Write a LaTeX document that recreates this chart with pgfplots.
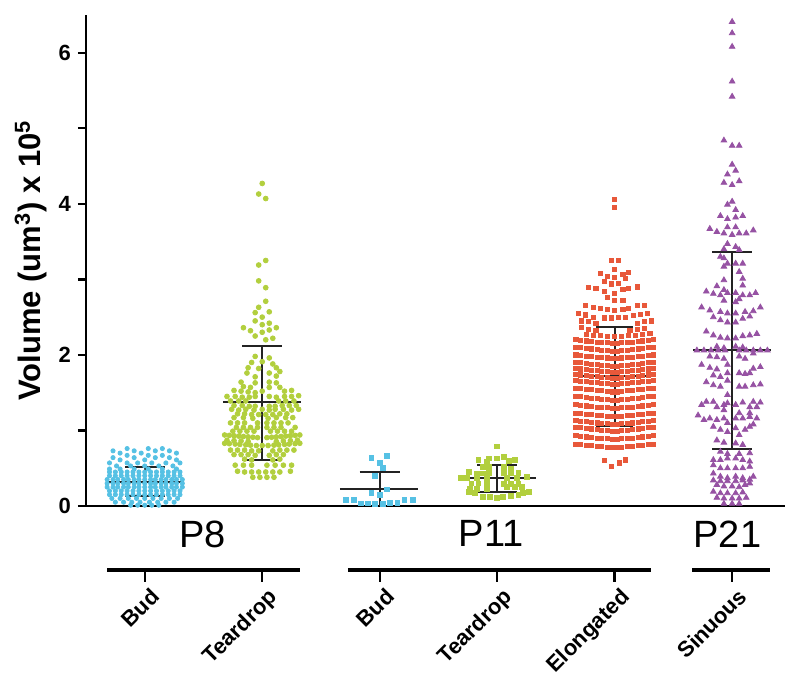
\documentclass[border=0pt]{standalone}
\usepackage{fontspec}
\setmainfont{Liberation Sans}
\usepackage{pgfplots}
\pgfplotsset{compat=1.18}
\definecolor{cbud}{RGB}{86,193,228}
\definecolor{ctear}{RGB}{178,207,62}
\definecolor{celong}{RGB}{232,88,58}
\definecolor{csin}{RGB}{150,82,163}
\definecolor{cerr}{RGB}{35,35,35}
\pgfplotsset{errl/.style={cerr, line width=1pt, forget plot}}
\begin{document}
\begin{tikzpicture}
\begin{axis}[
  name=ax, at={(0,0)}, anchor=south west,
  scale only axis, width=349.5pt, height=245.5pt,
  xmin=-0.5, xmax=5.45, ymin=0, ymax=6.5,
  axis lines=left, axis line style={line width=1.2pt,-},
  xtick=\empty, ytick={0,1,2,3,4,5,6}, yticklabels={0,,2,,4,,6},
  tick align=outside, major tick length=4pt,
  every tick/.style={black, line width=1.2pt},
  yticklabel style={font=\bfseries\fontsize{11}{11}\selectfont},
  /pgf/number format/assume math mode=true,
  ylabel={Volume (um\textsuperscript{3}) x 10\textsuperscript{5}},
  ylabel style={font=\bfseries\fontsize{15.5}{15.5}\selectfont, at={(axis description cs:-0.079,0.5)}, anchor=center},
  clip=false,
]
% P8 Bud
\addplot[only marks, mark=*, mark size=1.05pt, color=cbud] coordinates {
(-0.15,0.76)(0.03,0.76)(0.15,0.76)
(-0.27,0.73)(-0.09,0.73)(0.09,0.73)(0.21,0.73)
(-0.21,0.70)(-0.03,0.70)(0.27,0.70)
(-0.15,0.67)(0.03,0.67)(0.15,0.67)
(-0.27,0.64)(-0.09,0.64)(0.09,0.64)(0.21,0.64)
(-0.21,0.61)(0,0.61)(0.27,0.61)
(-0.30,0.57)(-0.15,0.57)(-0.06,0.57)(0.06,0.57)(0.18,0.57)(0.30,0.57)
(-0.24,0.53)(-0.12,0.53)(0,0.53)(0.12,0.53)(0.24,0.53)
(-0.30,0.49)(-0.21,0.49)(-0.09,0.49)(0.03,0.49)(0.15,0.49)(0.27,0.49)
(-0.30,0.45)(-0.25,0.45)(-0.20,0.45)(-0.15,0.45)(-0.10,0.45)(-0.05,0.45)(0,0.45)(0.05,0.45)(0.10,0.45)(0.15,0.45)(0.20,0.45)(0.25,0.45)(0.30,0.45)
(-0.30,0.40)(-0.25,0.40)(-0.20,0.40)(-0.15,0.40)(-0.10,0.40)(-0.05,0.40)(0,0.40)(0.05,0.40)(0.10,0.40)(0.15,0.40)(0.20,0.40)(0.25,0.40)(0.30,0.40)
(-0.32,0.35)(-0.27,0.35)(-0.23,0.35)(-0.18,0.35)(-0.14,0.35)(-0.09,0.35)(-0.05,0.35)(0,0.35)(0.05,0.35)(0.09,0.35)(0.14,0.35)(0.18,0.35)(0.23,0.35)(0.27,0.35)(0.32,0.35)
(-0.32,0.30)(-0.27,0.30)(-0.23,0.30)(-0.18,0.30)(-0.14,0.30)(-0.09,0.30)(-0.05,0.30)(0,0.30)(0.05,0.30)(0.09,0.30)(0.14,0.30)(0.18,0.30)(0.23,0.30)(0.27,0.30)(0.32,0.30)
(-0.32,0.25)(-0.27,0.25)(-0.23,0.25)(-0.18,0.25)(-0.14,0.25)(-0.09,0.25)(-0.05,0.25)(0,0.25)(0.05,0.25)(0.09,0.25)(0.14,0.25)(0.18,0.25)(0.23,0.25)(0.27,0.25)(0.32,0.25)
(-0.30,0.20)(-0.25,0.20)(-0.20,0.20)(-0.15,0.20)(-0.10,0.20)(-0.05,0.20)(0,0.20)(0.05,0.20)(0.10,0.20)(0.15,0.20)(0.20,0.20)(0.25,0.20)(0.30,0.20)
(-0.30,0.15)(-0.25,0.15)(-0.20,0.15)(-0.15,0.15)(-0.10,0.15)(-0.05,0.15)(0,0.15)(0.05,0.15)(0.10,0.15)(0.15,0.15)(0.20,0.15)(0.25,0.15)(0.30,0.15)
(-0.28,0.10)(-0.21,0.10)(-0.14,0.10)(-0.07,0.10)(0,0.10)(0.07,0.10)(0.14,0.10)(0.21,0.10)(0.28,0.10)
(-0.25,0.05)(-0.18,0.05)(-0.11,0.05)(-0.04,0.05)(0.04,0.05)(0.11,0.05)(0.18,0.05)(0.25,0.05)
(-0.12,0.01)(-0.06,0.01)(0,0.01)(0.06,0.01)(0.12,0.01)
};
% P8 Teardrop
\addplot[only marks, mark=*, mark size=1.2pt, color=ctear] coordinates {
(1.00,4.27)(0.97,4.13)(1.03,4.07)(1.03,3.25)(0.97,3.19)(0.97,2.98)(1.03,2.89)(1.03,2.71)(0.97,2.63)
(0.94,2.56)(1.06,2.57)(1.00,2.50)(0.94,2.45)(1.06,2.42)(0.84,2.36)(0.90,2.32)(1.00,2.40)(1.06,2.33)(1.12,2.36)(0.94,2.25)(1.00,2.30)(1.09,2.22)(1.03,2.20)
(0.94,1.98)(1.06,1.96)
(0.91,1.90)(1.00,1.91)(1.09,1.88)
(0.88,1.83)(0.97,1.82)(1.12,1.83)
(0.87,1.76)(1.06,1.76)(1.15,1.78)
(0.94,1.71)(1.12,1.72)
(0.82,1.64)(0.94,1.63)(1.06,1.64)(1.12,1.63)
(0.84,1.58)(0.90,1.57)(1.06,1.57)(1.15,1.57)
(0.76,1.53)(0.82,1.52)(0.88,1.51)(0.94,1.50)(1.00,1.52)(1.19,1.52)(1.25,1.53)
(0.70,1.45)(0.77,1.45)(0.83,1.44)(0.89,1.44)(0.94,1.45)(1.06,1.45)(1.12,1.44)(1.19,1.45)(1.25,1.45)(1.31,1.46)
(0.73,1.39)(0.80,1.39)(0.86,1.39)(1.14,1.39)(1.20,1.39)(1.27,1.39)
(0.76,1.33)(0.83,1.33)(0.89,1.32)(0.94,1.32)(1.06,1.32)(1.11,1.32)(1.17,1.33)(1.23,1.33)(1.29,1.33)
(0.74,1.28)(0.80,1.27)(0.86,1.28)(0.93,1.27)(1.00,1.28)(1.06,1.27)(1.11,1.28)(1.18,1.28)(1.25,1.27)(1.31,1.28)
(0.79,1.22)(0.85,1.22)(0.91,1.21)(0.97,1.21)(1.03,1.21)(1.09,1.21)(1.15,1.22)(1.21,1.22)
(0.76,1.17)(0.84,1.17)(0.92,1.16)(1.05,1.16)(1.12,1.17)(1.20,1.17)(1.26,1.17)
(0.73,1.10)(0.79,1.10)(0.85,1.10)(0.96,1.10)(1.04,1.10)(1.10,1.10)(1.16,1.10)(1.22,1.10)
(0.78,1.04)(0.84,1.04)(0.90,1.04)(0.96,1.04)(1.04,1.04)(1.10,1.04)(1.16,1.04)(1.28,1.04)
(0.75,0.99)(0.81,0.99)(0.87,0.99)(0.93,0.99)(1.07,0.99)(1.13,0.99)(1.19,0.99)(1.25,0.99)
(0.68,0.94)(0.72,0.935)(0.76,0.93)(0.80,0.925)(0.84,0.92)(0.88,0.915)(0.92,0.91)(0.96,0.905)(1.04,0.905)(1.08,0.91)(1.12,0.915)(1.16,0.92)(1.20,0.925)(1.24,0.93)(1.28,0.935)(1.32,0.94)
(0.70,0.87)(0.76,0.865)(0.82,0.86)(0.88,0.855)(1.12,0.855)(1.18,0.86)(1.24,0.865)(1.30,0.87)
(0.68,0.83)(0.72,0.825)(0.77,0.82)(0.81,0.815)(0.86,0.81)(0.90,0.805)(0.95,0.80)(1.00,0.80)(1.05,0.80)(1.10,0.805)(1.14,0.81)(1.19,0.815)(1.23,0.82)(1.28,0.825)(1.32,0.83)
(0.73,0.74)(0.79,0.74)(0.85,0.74)(0.91,0.73)(0.97,0.73)(1.09,0.73)(1.15,0.74)(1.21,0.74)(1.27,0.74)
(0.76,0.68)(0.82,0.68)(0.88,0.68)(0.94,0.67)(1.06,0.67)(1.12,0.68)(1.18,0.68)
(0.85,0.62)(0.91,0.61)(1.09,0.61)(1.15,0.62)
(0.77,0.54)(0.84,0.54)(0.91,0.54)(1.04,0.54)(1.11,0.54)(1.18,0.54)(1.25,0.54)
(0.79,0.46)(0.85,0.45)(0.91,0.45)(0.97,0.45)(1.03,0.45)(1.09,0.45)(1.15,0.45)(1.24,0.46)
(0.92,0.38)(0.98,0.38)(1.04,0.38)(1.10,0.38)
};
% P11 Bud
\addplot[only marks, mark=square*, mark size=1.2pt, color=cbud] coordinates {
(1.93,0.64)(2.06,0.66)(2.00,0.57)(2.03,0.50)(1.96,0.40)(2.06,0.22)(1.93,0.17)(2.00,0.15)
(1.71,0.08)(1.78,0.08)(1.84,0.035)(1.90,0.035)(1.96,0.03)(2.03,0.03)(2.09,0.04)(2.15,0.04)(2.21,0.08)(2.28,0.08)
};
% P11 Teardrop
\addplot[only marks, mark=square*, mark size=1.2pt, color=ctear] coordinates {
(3.00,0.79)(2.84,0.61)(2.91,0.58)(2.93,0.63)(3.00,0.63)(3.06,0.65)(3.10,0.60)(3.15,0.61)
(2.88,0.52)(2.93,0.52)(3.06,0.52)(3.12,0.49)
(2.76,0.45)(2.83,0.43)(2.88,0.43)(2.93,0.44)(3.06,0.44)(3.12,0.43)(3.18,0.44)
(2.69,0.37)(2.74,0.37)(2.83,0.37)(2.91,0.37)(3.08,0.37)(3.17,0.37)(3.25,0.39)
(2.78,0.30)(2.84,0.30)(2.91,0.29)(3.06,0.29)(3.12,0.29)(3.18,0.29)
(2.77,0.23)(2.83,0.23)(2.91,0.23)(3.08,0.25)(3.15,0.25)(3.21,0.25)
(2.76,0.19)(2.81,0.17)(3.22,0.17)(3.27,0.19)
(2.88,0.12)(2.94,0.12)(3.00,0.11)(3.05,0.12)(3.12,0.13)(3.18,0.15)
};
% P11 Elongated
\addplot[only marks, mark=square*, mark size=1.02pt, color=celong] coordinates {
(4.00,4.06)(4.00,3.95)(3.97,3.25)(4.03,3.25)(4.00,3.13)(3.88,3.08)(3.94,3.04)(4.00,3.03)(4.07,3.06)(4.12,3.09)(4.09,3.01)
(3.91,2.97)(3.97,2.94)(4.03,2.95)(3.78,2.89)(3.84,2.88)(3.91,2.84)(4.00,2.82)(4.07,2.87)(4.12,2.88)(4.19,2.90)
(3.94,2.76)(4.00,2.72)(4.07,2.72)
(3.75,2.65)(3.82,2.63)(3.88,2.62)(3.94,2.60)(4.00,2.59)(4.07,2.60)(4.12,2.61)(4.19,2.65)(4.25,2.65)
(3.69,2.55)(3.75,2.53)(3.82,2.50)(3.91,2.49)(3.97,2.49)(4.03,2.50)(4.09,2.50)(4.16,2.52)(4.22,2.54)(4.28,2.55)
(3.72,2.45)(3.78,2.44)(3.84,2.42)(4.19,2.42)(4.25,2.44)(4.31,2.45)
(3.72,2.36)(3.78,2.34)(3.84,2.33)(4.13,2.33)(4.19,2.34)(4.25,2.35)
(3.76,2.27)(3.82,2.26)(3.88,2.26)(3.94,2.25)(4.00,2.25)(4.06,2.25)(4.12,2.26)(4.18,2.26)(4.24,2.27)(4.30,2.28)
(3.67,2.20)(3.71,2.195)(3.76,2.185)(3.80,2.18)(3.85,2.17)(3.89,2.165)(3.94,2.16)(3.98,2.15)(4.02,2.15)(4.06,2.16)(4.11,2.165)(4.15,2.17)(4.20,2.18)(4.24,2.185)(4.29,2.195)(4.33,2.20)
(3.67,2.10)(3.71,2.095)(3.76,2.085)(3.80,2.08)(3.85,2.07)(3.89,2.065)(3.94,2.06)(3.98,2.05)(4.02,2.05)(4.06,2.06)(4.11,2.065)(4.15,2.07)(4.20,2.08)(4.24,2.085)(4.29,2.095)(4.33,2.10)
(3.67,2.00)(3.71,1.995)(3.76,1.985)(3.80,1.98)(3.85,1.97)(3.89,1.965)(3.94,1.96)(3.98,1.95)(4.02,1.95)(4.06,1.96)(4.11,1.965)(4.15,1.97)(4.20,1.98)(4.24,1.985)(4.29,1.995)(4.33,2.00)
(3.67,1.90)(3.71,1.895)(3.76,1.885)(3.80,1.88)(3.85,1.87)(3.89,1.865)(3.94,1.86)(3.98,1.85)(4.02,1.85)(4.06,1.86)(4.11,1.865)(4.15,1.87)(4.20,1.88)(4.24,1.885)(4.29,1.895)(4.33,1.90)
(3.67,1.82)(3.71,1.815)(3.76,1.805)(3.80,1.80)(3.85,1.79)(3.89,1.785)(3.94,1.78)(3.98,1.77)(4.02,1.77)(4.06,1.78)(4.11,1.785)(4.15,1.79)(4.20,1.80)(4.24,1.805)(4.29,1.815)(4.33,1.82)
(3.67,1.74)(3.71,1.735)(3.76,1.725)(3.80,1.72)(3.85,1.71)(3.89,1.705)(3.94,1.70)(3.98,1.69)(4.02,1.69)(4.06,1.70)(4.11,1.705)(4.15,1.71)(4.20,1.72)(4.24,1.725)(4.29,1.735)(4.33,1.74)
(3.67,1.66)(3.71,1.655)(3.76,1.645)(3.80,1.64)(3.85,1.63)(3.89,1.625)(3.94,1.62)(3.98,1.61)(4.02,1.61)(4.06,1.62)(4.11,1.625)(4.15,1.63)(4.20,1.64)(4.24,1.645)(4.29,1.655)(4.33,1.66)
(3.67,1.56)(3.71,1.555)(3.76,1.545)(3.80,1.54)(3.85,1.53)(3.89,1.525)(3.94,1.52)(3.98,1.51)(4.02,1.51)(4.06,1.52)(4.11,1.525)(4.15,1.53)(4.20,1.54)(4.24,1.545)(4.29,1.555)(4.33,1.56)
(3.67,1.45)(3.71,1.445)(3.76,1.435)(3.80,1.43)(3.85,1.42)(3.89,1.415)(3.94,1.41)(3.98,1.40)(4.02,1.40)(4.06,1.41)(4.11,1.415)(4.15,1.42)(4.20,1.43)(4.24,1.435)(4.29,1.445)(4.33,1.45)
(3.67,1.34)(3.71,1.335)(3.76,1.325)(3.80,1.32)(3.85,1.31)(3.89,1.305)(3.94,1.30)(3.98,1.29)(4.02,1.29)(4.06,1.30)(4.11,1.305)(4.15,1.31)(4.20,1.32)(4.24,1.325)(4.29,1.335)(4.33,1.34)
(3.67,1.23)(3.71,1.225)(3.76,1.215)(3.80,1.21)(3.85,1.20)(3.89,1.195)(3.94,1.19)(3.98,1.18)(4.02,1.18)(4.06,1.19)(4.11,1.195)(4.15,1.20)(4.20,1.21)(4.24,1.215)(4.29,1.225)(4.33,1.23)
(3.67,1.13)(3.71,1.125)(3.76,1.115)(3.80,1.11)(3.85,1.10)(3.89,1.095)(3.94,1.09)(3.98,1.08)(4.02,1.08)(4.06,1.09)(4.11,1.095)(4.15,1.10)(4.20,1.11)(4.24,1.115)(4.29,1.125)(4.33,1.13)
(3.67,1.04)(3.71,1.035)(3.76,1.025)(3.80,1.02)(3.85,1.01)(3.89,1.005)(3.94,1.00)(3.98,0.99)(4.02,0.99)(4.06,1.00)(4.11,1.005)(4.15,1.01)(4.20,1.02)(4.24,1.025)(4.29,1.035)(4.33,1.04)
(3.67,0.93)(3.71,0.925)(3.76,0.915)(3.80,0.91)(3.85,0.90)(3.89,0.895)(3.94,0.89)(3.98,0.88)(4.02,0.88)(4.06,0.89)(4.11,0.895)(4.15,0.90)(4.20,0.91)(4.24,0.915)(4.29,0.925)(4.33,0.93)
(3.67,0.82)(3.71,0.815)(3.76,0.805)(3.80,0.80)(3.85,0.79)(3.89,0.785)(3.94,0.78)(3.98,0.77)(4.02,0.77)(4.06,0.78)(4.11,0.785)(4.15,0.79)(4.20,0.80)(4.24,0.805)(4.29,0.815)(4.33,0.82)
(3.91,0.60)(3.97,0.52)(4.04,0.57)(4.09,0.61)
};
% P21 Sinuous
\addplot[only marks, mark=triangle*, mark size=1.6pt, color=csin] coordinates {
(5.00,6.41)(5.00,6.26)(5.00,6.08)(5.00,5.62)(5.00,5.42)(4.93,4.84)(5.00,4.77)(5.06,4.77)(5.00,4.52)(4.96,4.39)(5.03,4.44)
(4.93,4.28)(5.00,4.25)(5.06,4.30)(5.00,4.03)(4.96,3.99)(5.03,3.92)(4.90,3.84)(4.96,3.80)(5.03,3.82)(5.09,3.84)
(4.81,3.67)(4.87,3.63)(4.93,3.61)(4.96,3.69)(5.03,3.69)(5.00,3.59)(5.06,3.61)(5.12,3.61)(5.18,3.65)
(4.96,3.47)(5.03,3.43)(4.93,3.40)(5.06,3.39)(4.90,3.30)
(4.93,3.28)(4.96,3.21)(5.03,3.21)(5.09,3.21)(4.93,3.17)(5.06,3.10)(4.93,2.99)(5.09,3.01)
(4.87,2.91)(4.93,2.86)(5.09,2.92)(4.78,2.84)(4.84,2.81)(4.90,2.79)(4.96,2.82)(5.03,2.82)(5.09,2.79)(5.15,2.79)(5.20,2.82)
(4.93,2.72)(5.03,2.70)(5.06,2.74)
(4.74,2.63)(4.81,2.59)(4.90,2.57)(4.96,2.55)(5.03,2.55)(5.11,2.57)(5.18,2.58)(5.24,2.63)
(4.84,2.50)(4.90,2.46)(4.96,2.43)(5.03,2.43)(5.09,2.48)(5.15,2.51)
(4.78,2.31)(4.84,2.26)(4.90,2.23)(4.96,2.22)(5.03,2.22)(5.09,2.25)(5.15,2.26)(5.21,2.28)
(4.87,2.11)(4.93,2.09)(5.03,2.11)(5.09,2.10)
(4.70,2.06)(4.76,2.06)(4.82,2.06)(4.88,2.06)(4.94,2.06)(5.06,2.06)(5.12,2.06)(5.18,2.06)(5.24,2.06)(5.30,2.06)
(4.81,1.98)(4.87,1.97)(4.93,1.95)(5.06,1.98)(5.11,1.95)(5.18,2.02)
(4.74,1.87)(4.81,1.83)(4.87,1.81)(4.96,1.87)(4.84,1.73)(4.90,1.71)(4.96,1.76)(5.06,1.76)(5.11,1.75)(5.15,1.76)(5.18,1.82)(5.24,1.84)
(4.78,1.64)(4.84,1.60)(4.90,1.58)(4.96,1.66)(5.06,1.58)(5.11,1.58)(5.18,1.60)(5.24,1.61)
(4.96,1.47)
(4.74,1.34)(4.78,1.38)(4.84,1.38)(4.87,1.31)(4.93,1.34)(4.96,1.36)(5.03,1.34)(5.09,1.37)(5.15,1.31)(5.18,1.38)(5.21,1.31)(5.24,1.37)
(4.93,1.27)(5.06,1.23)(5.15,1.23)
(4.71,1.20)(4.76,1.14)(4.81,1.16)(4.87,1.14)(4.93,1.16)(4.96,1.10)(5.03,1.16)(5.09,1.16)(5.15,1.18)(5.18,1.08)(5.21,1.16)
(4.84,1.05)(4.90,1.01)(4.96,0.98)(5.03,1.03)(5.11,1.01)(5.06,0.94)(5.15,1.05)
(4.87,0.87)(4.93,0.84)(5.03,0.83)(5.09,0.81)
(4.90,0.72)(4.96,0.69)(5.06,0.69)(5.15,0.70)
(4.84,0.61)(4.90,0.61)(4.96,0.63)(5.03,0.63)(5.09,0.61)(5.15,0.59)
(4.84,0.54)(4.90,0.50)(4.96,0.50)(5.03,0.50)(5.09,0.50)(5.15,0.52)
(4.84,0.43)(4.90,0.39)(4.96,0.37)(5.03,0.39)(5.09,0.37)(5.18,0.39)
(4.84,0.34)(4.90,0.33)(4.96,0.33)(5.03,0.33)(5.09,0.34)(5.15,0.35)
(4.87,0.28)(4.93,0.26)(5.00,0.26)(5.06,0.25)(5.11,0.28)(5.15,0.30)
(4.84,0.19)(4.90,0.17)(4.96,0.17)(5.03,0.17)(5.09,0.18)
(4.87,0.11)(4.93,0.10)(5.00,0.10)(5.06,0.10)(5.12,0.11)
(4.93,0.03)(5.00,0.03)(5.06,0.03)
};
% mean and SD bars
\addplot[errl] coordinates {(-0.33,0.32) (0.33,0.32)};
\addplot[errl] coordinates {(-0.17,0.51) (0.17,0.51)};
\addplot[errl] coordinates {(-0.17,0.13) (0.17,0.13)};
\addplot[errl] coordinates {(0,0.13) (0,0.51)};
\addplot[errl] coordinates {(0.67,1.37) (1.33,1.37)};
\addplot[errl] coordinates {(0.83,2.12) (1.17,2.12)};
\addplot[errl] coordinates {(0.83,0.61) (1.17,0.61)};
\addplot[errl] coordinates {(1,0.61) (1,2.12)};
\addplot[errl] coordinates {(1.66,0.22) (2.33,0.22)};
\addplot[errl] coordinates {(1.83,0.445) (2.17,0.445)};
\addplot[errl] coordinates {(2,0) (2,0.445)};
\addplot[errl] coordinates {(2.67,0.366) (3.33,0.366)};
\addplot[errl] coordinates {(2.83,0.54) (3.17,0.54)};
\addplot[errl] coordinates {(2.83,0.19) (3.17,0.19)};
\addplot[errl] coordinates {(3,0.19) (3,0.54)};
\addplot[errl] coordinates {(3.67,1.72) (4.33,1.72)};
\addplot[errl] coordinates {(3.84,2.37) (4.16,2.37)};
\addplot[errl] coordinates {(3.84,1.06) (4.16,1.06)};
\addplot[errl] coordinates {(4,1.06) (4,2.37)};
\addplot[errl] coordinates {(4.67,2.06) (5.33,2.06)};
\addplot[errl] coordinates {(4.83,3.36) (5.17,3.36)};
\addplot[errl] coordinates {(4.83,0.75) (5.17,0.75)};
\addplot[errl] coordinates {(5,0.75) (5,3.36)};
% group labels and bars
\node[font=\fontsize{19}{19}\selectfont] at (axis cs:0.49,-0.37) {P8};
\node[font=\fontsize{19}{19}\selectfont] at (axis cs:2.95,-0.37) {P11};
\node[font=\fontsize{19}{19}\selectfont] at (axis cs:4.96,-0.37) {P21};
\draw[line width=2.2pt] (axis cs:-0.32,-0.85) -- (axis cs:1.32,-0.85);
\draw[line width=2.2pt] (axis cs:1.73,-0.85) -- (axis cs:4.31,-0.85);
\draw[line width=2.2pt] (axis cs:4.66,-0.85) -- (axis cs:5.32,-0.85);
\draw[line width=1.2pt] (axis cs:0,-0.85) -- (axis cs:0,-1.0);
\draw[line width=1.2pt] (axis cs:1,-0.85) -- (axis cs:1,-1.0);
\draw[line width=1.2pt] (axis cs:2,-0.85) -- (axis cs:2,-1.0);
\draw[line width=1.2pt] (axis cs:3,-0.85) -- (axis cs:3,-1.0);
\draw[line width=1.2pt] (axis cs:4,-0.85) -- (axis cs:4,-1.0);
\draw[line width=1.2pt] (axis cs:5,-0.85) -- (axis cs:5,-1.0);
\node[rotate=45, anchor=north east, inner sep=1pt, font=\bfseries\fontsize{11}{11}\selectfont] at (axis cs:0.04,-1.03) {Bud};
\node[rotate=45, anchor=north east, inner sep=1pt, font=\bfseries\fontsize{11}{11}\selectfont] at (axis cs:1.04,-1.03) {Teardrop};
\node[rotate=45, anchor=north east, inner sep=1pt, font=\bfseries\fontsize{11}{11}\selectfont] at (axis cs:2.04,-1.03) {Bud};
\node[rotate=45, anchor=north east, inner sep=1pt, font=\bfseries\fontsize{11}{11}\selectfont] at (axis cs:3.04,-1.03) {Teardrop};
\node[rotate=45, anchor=north east, inner sep=1pt, font=\bfseries\fontsize{11}{11}\selectfont] at (axis cs:4.04,-1.03) {Elongated};
\node[rotate=45, anchor=north east, inner sep=1pt, font=\bfseries\fontsize{11}{11}\selectfont] at (axis cs:5.04,-1.03) {Sinuous};
\end{axis}
\pgfresetboundingbox
\path[use as bounding box] ([xshift=-43pt,yshift=-84.5pt]ax.south west) rectangle ([xshift=7.5pt,yshift=7.5pt]ax.north east);
\end{tikzpicture}
\end{document}
